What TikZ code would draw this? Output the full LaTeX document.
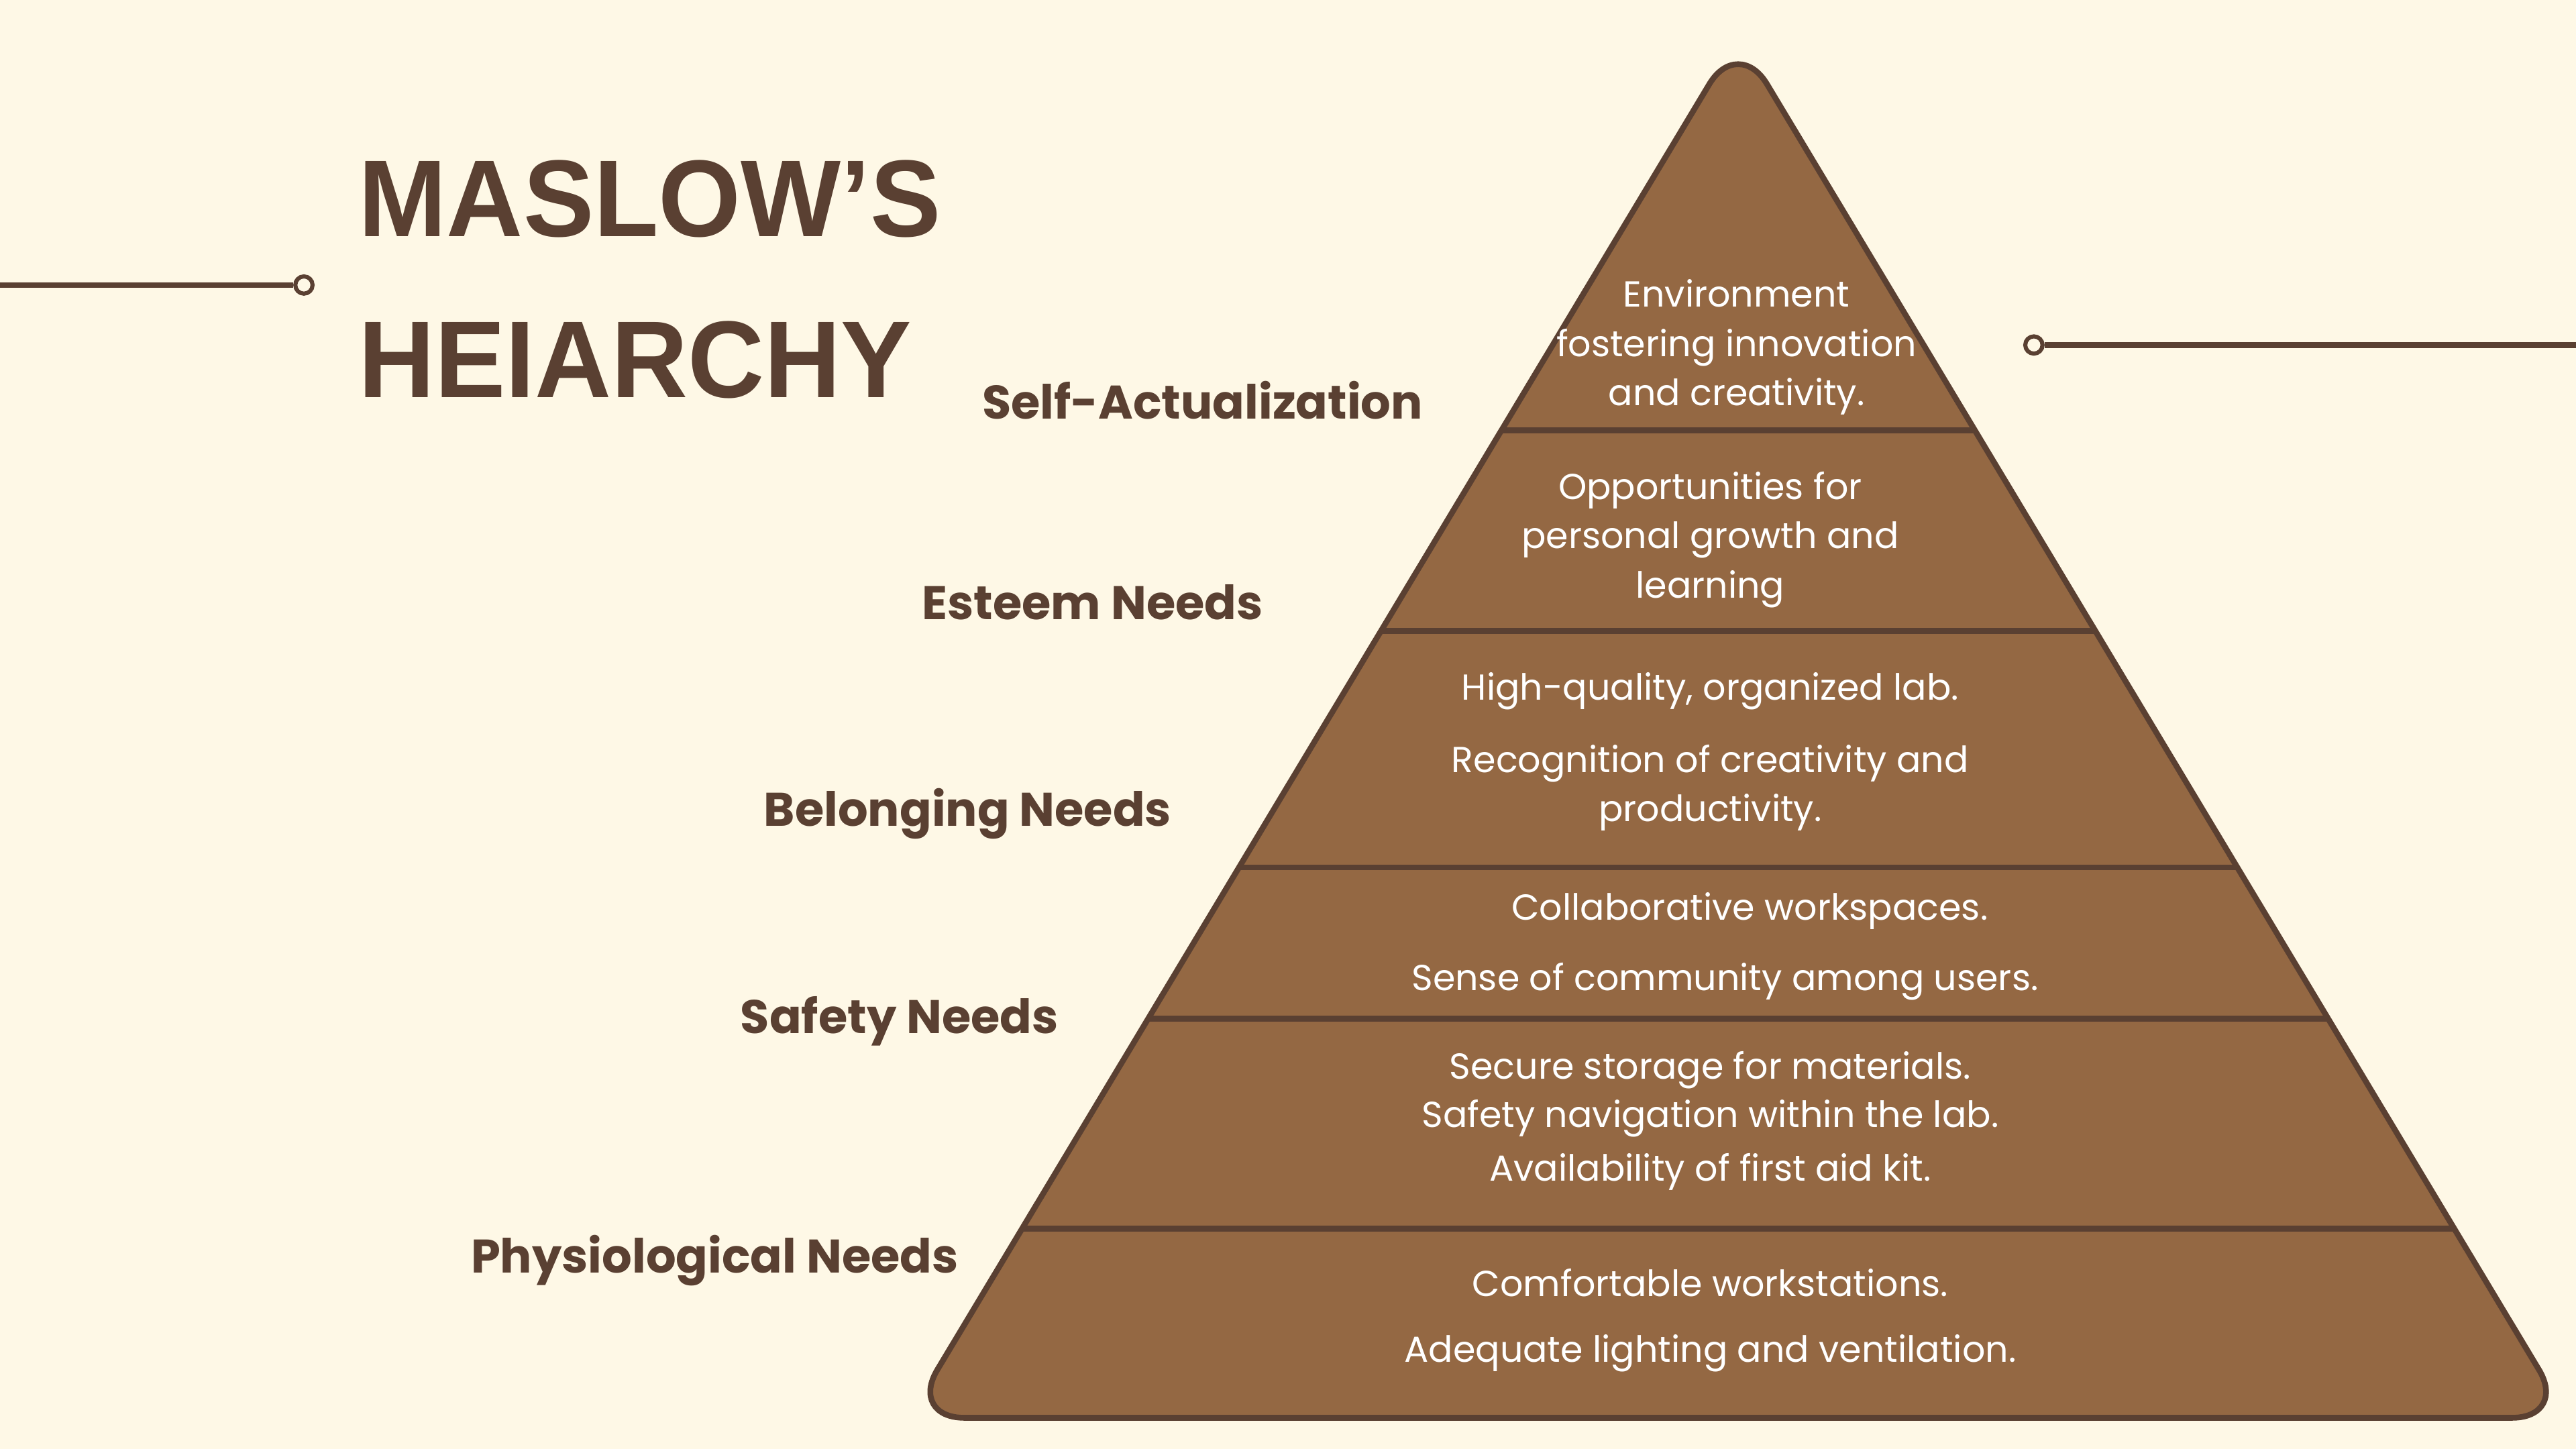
\documentclass[tikz,border=0pt]{standalone}
\usepackage{fontspec}
\setmainfont{Poppins}
\newfontfamily\titlefont{Liberation Sans}
\usetikzlibrary{positioning}
\usepackage{xcolor}
\definecolor{cream}{HTML}{FEF8E6}
\definecolor{tierbrown}{HTML}{946843}
\definecolor{darkbrown}{HTML}{5A4032}

\begin{document}
\begin{tikzpicture}[x=1pt, y=-1pt, every node/.style={
    inner sep=0pt,
    anchor=base,
    text=white,
    font=\fontsize{22}{30}\selectfont
},
level_label/.style={text=darkbrown, font=\fontsize{28.7}{34}\selectfont\bfseries},
title_text/.style={anchor=base west, text=darkbrown, xscale=0.97, transform shape, font=\titlefont\fontsize{66.5}{80}\selectfont\bfseries},
pin_dot/.style={circle, draw=darkbrown, line width=2.5pt, fill=cream, minimum size=10.5pt}]

    \fill[cream] (0,0) rectangle (1568,882);
    \useasboundingbox (0,0) rectangle (1568,882);



    \fill[tierbrown, rounded corners=34pt] (1058,863) -- (1563,863) -- (1058,22) -- (553,863) -- cycle;

    \begin{scope}
        \clip[rounded corners=34pt] (1058,863) -- (1563,863) -- (1058,22) -- (553,863) -- cycle;
        \draw[darkbrown, line width=3.6pt] (500,262) -- (1620,262);
        \draw[darkbrown, line width=3.6pt] (500,384) -- (1620,384);
        \draw[darkbrown, line width=3.6pt] (500,528) -- (1620,528);
        \draw[darkbrown, line width=3.6pt] (500,620) -- (1620,620);
        \draw[darkbrown, line width=3.6pt] (500,748) -- (1620,748);
    \end{scope}

    \draw[darkbrown, line width=3.5pt, rounded corners=34pt] (1058,863) -- (1563,863) -- (1058,22) -- (553,863) -- cycle;



    \node (title_maslows) [shift={(218, 144)}, title_text]
    {
        MASLOW’S
    };

    \node (title_heiarchy) [shift={(218, 242)}, title_text]
    {
        HEIARCHY
    };

    \node (left_pin) [pin_dot, shift={(185, 173.5)}] {};
    \coordinate (left_end) at (0, 173.5);

    \node (right_pin) [pin_dot, shift={(1238, 210)}] {};
    \coordinate (right_end) at (1568, 210);

    \draw[darkbrown, line width=3.5pt] (left_end) to (left_pin);
    \draw[darkbrown, line width=3.5pt] (right_pin) to (right_end);





    \node (self_actualization) [level_label, shift={(732, 255)}]
    {
        Self-Actualization
    };

    \node (esteem_needs) [level_label, shift={(665, 377)}]
    {
        Esteem Needs
    };

    \node (belonging_needs) [level_label, shift={(589, 503)}]
    {
        Belonging Needs
    };

    \node (safety_needs) [level_label, shift={(547.5, 629)}]
    {
        Safety Needs
    };

    \node (physiological_needs) [level_label, shift={(435, 775)}]
    {
        Physiological Needs
    };





    \node (self_line_a) [shift={(1057, 187)}] {Environment};
    \node (self_line_b) [shift={(1057, 217)}] {fostering innovation};
    \node (self_line_c) [shift={(1057, 247)}] {and creativity.};

    \node (esteem_line_a) [shift={(1041, 304)}] {Opportunities for};
    \node (esteem_line_b) [shift={(1041, 334)}] {personal growth and};
    \node (esteem_line_c) [shift={(1041, 364)}] {learning};

    \node (belonging_line_a) [shift={(1041, 426)}] {High-quality, organized lab.};
    \node (belonging_line_b) [shift={(1041, 470)}] {Recognition of creativity and};
    \node (belonging_line_c) [shift={(1041, 500)}] {productivity.};

    \node (safety_line_a) [shift={(1065, 560)}] {Collaborative workspaces.};
    \node (safety_line_b) [shift={(1050, 603)}] {Sense of community among users.};

    \node (physio_line_a) [shift={(1041, 657)}] {Secure storage for materials.};
    \node (physio_line_b) [shift={(1041, 686)}] {Safety navigation within the lab.};
    \node (physio_line_c) [shift={(1041, 719)}] {Availability of first aid kit.};

    \node (base_line_a) [shift={(1041, 789)}] {Comfortable workstations.};
    \node (base_line_b) [shift={(1041, 829)}] {Adequate lighting and ventilation.};


\end{tikzpicture}
\end{document}
